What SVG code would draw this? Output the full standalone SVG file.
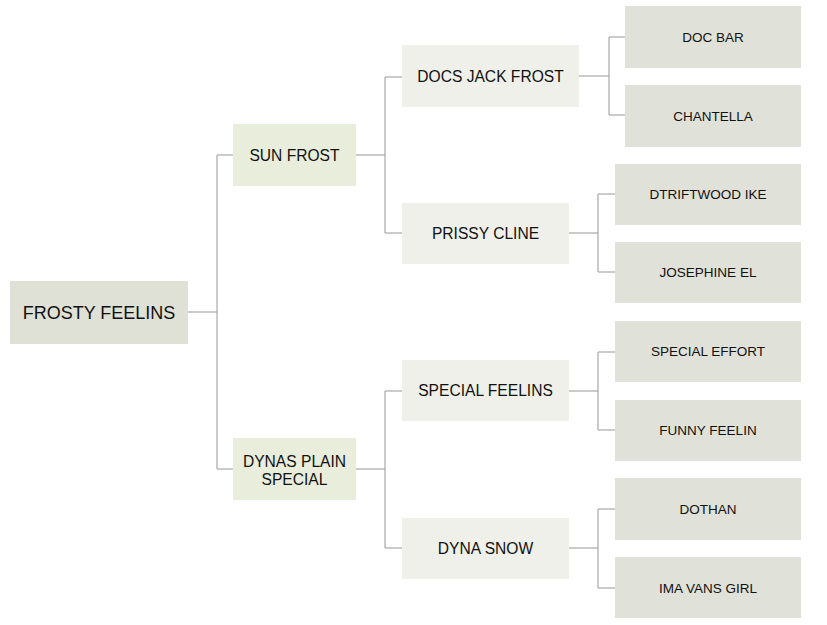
<svg xmlns="http://www.w3.org/2000/svg" width="827" height="625" viewBox="0 0 827 625">
<style>
text{font-family:"Liberation Sans",Arial,sans-serif;fill:#111;text-anchor:middle;dominant-baseline:central}
.r{fill:#dfe1d6}.s{fill:#e9eddb}.p{fill:#eef0e9}.l{fill:#e0e1d8}
.c line{stroke:#a8a8a8;stroke-width:1.2}
.t1{font-size:18px}.t2{font-size:15.6px}.t3{font-size:15.6px}.t4{font-size:13.5px}
</style>
<rect width="827" height="625" fill="#fff"/>
<g class="c" id="connectors">
<line x1="188" y1="312" x2="217" y2="312"/>
<line x1="217" y1="155" x2="217" y2="469"/>
<line x1="217" y1="155" x2="233" y2="155"/>
<line x1="217" y1="469" x2="233" y2="469"/>
<line x1="356" y1="155" x2="385" y2="155"/>
<line x1="385" y1="77" x2="385" y2="233"/>
<line x1="385" y1="77" x2="402" y2="77"/>
<line x1="385" y1="233" x2="402" y2="233"/>
<line x1="356" y1="469" x2="385" y2="469"/>
<line x1="385" y1="391" x2="385" y2="548"/>
<line x1="385" y1="391" x2="402" y2="391"/>
<line x1="385" y1="548" x2="402" y2="548"/>
<line x1="579" y1="76" x2="609" y2="76"/>
<line x1="609" y1="37" x2="609" y2="115"/>
<line x1="609" y1="37" x2="625" y2="37"/>
<line x1="609" y1="115" x2="625" y2="115"/>
<line x1="569" y1="233" x2="598" y2="233"/>
<line x1="598" y1="194" x2="598" y2="272"/>
<line x1="598" y1="194" x2="615" y2="194"/>
<line x1="598" y1="272" x2="615" y2="272"/>
<line x1="569" y1="391" x2="598" y2="391"/>
<line x1="598" y1="352" x2="598" y2="430"/>
<line x1="598" y1="352" x2="615" y2="352"/>
<line x1="598" y1="430" x2="615" y2="430"/>
<line x1="569" y1="548" x2="598" y2="548"/>
<line x1="598" y1="509" x2="598" y2="588"/>
<line x1="598" y1="509" x2="615" y2="509"/>
<line x1="598" y1="588" x2="615" y2="588"/>
</g>
<g id="frosty-feelins"><rect class="r" x="10" y="281" width="178" height="63"/><text class="t1" x="99" y="312.5">FROSTY FEELINS</text></g>
<g id="sun-frost"><rect class="s" x="233" y="124" width="123" height="62"/><text class="t2" x="294.5" y="155">SUN FROST</text></g>
<g id="dynas-plain-special"><rect class="s" x="233" y="438" width="123" height="62"/><text class="t2" x="294.5" y="461.5">DYNAS PLAIN</text><text class="t2" x="294.5" y="479">SPECIAL</text></g>
<g id="docs-jack-frost"><rect class="p" x="402" y="45" width="177" height="62"/><text class="t3" x="490.5" y="76.5">DOCS JACK FROST</text></g>
<g id="prissy-cline"><rect class="p" x="402" y="203" width="167" height="61"/><text class="t3" x="485.5" y="233.5">PRISSY CLINE</text></g>
<g id="special-feelins"><rect class="p" x="402" y="360" width="167" height="61"/><text class="t3" x="485.5" y="390.5">SPECIAL FEELINS</text></g>
<g id="dyna-snow"><rect class="p" x="402" y="518" width="167" height="61"/><text class="t3" x="485.5" y="548.5">DYNA SNOW</text></g>
<g id="doc-bar"><rect class="l" x="625" y="6" width="176" height="62"/><text class="t4" x="713" y="37.5">DOC BAR</text></g>
<g id="chantella"><rect class="l" x="625" y="85" width="176" height="62"/><text class="t4" x="713" y="116">CHANTELLA</text></g>
<g id="dtriftwood-ike"><rect class="l" x="615" y="164" width="186" height="61"/><text class="t4" x="708" y="194.5">DTRIFTWOOD IKE</text></g>
<g id="josephine-el"><rect class="l" x="615" y="242" width="186" height="61"/><text class="t4" x="708" y="272.5">JOSEPHINE EL</text></g>
<g id="special-effort"><rect class="l" x="615" y="321" width="186" height="61"/><text class="t4" x="708" y="351.5">SPECIAL EFFORT</text></g>
<g id="funny-feelin"><rect class="l" x="615" y="400" width="186" height="61"/><text class="t4" x="708" y="430.5">FUNNY FEELIN</text></g>
<g id="dothan"><rect class="l" x="615" y="478" width="186" height="62"/><text class="t4" x="708" y="509">DOTHAN</text></g>
<g id="ima-vans-girl"><rect class="l" x="615" y="557" width="186" height="61"/><text class="t4" x="708" y="588">IMA VANS GIRL</text></g>
</svg>
